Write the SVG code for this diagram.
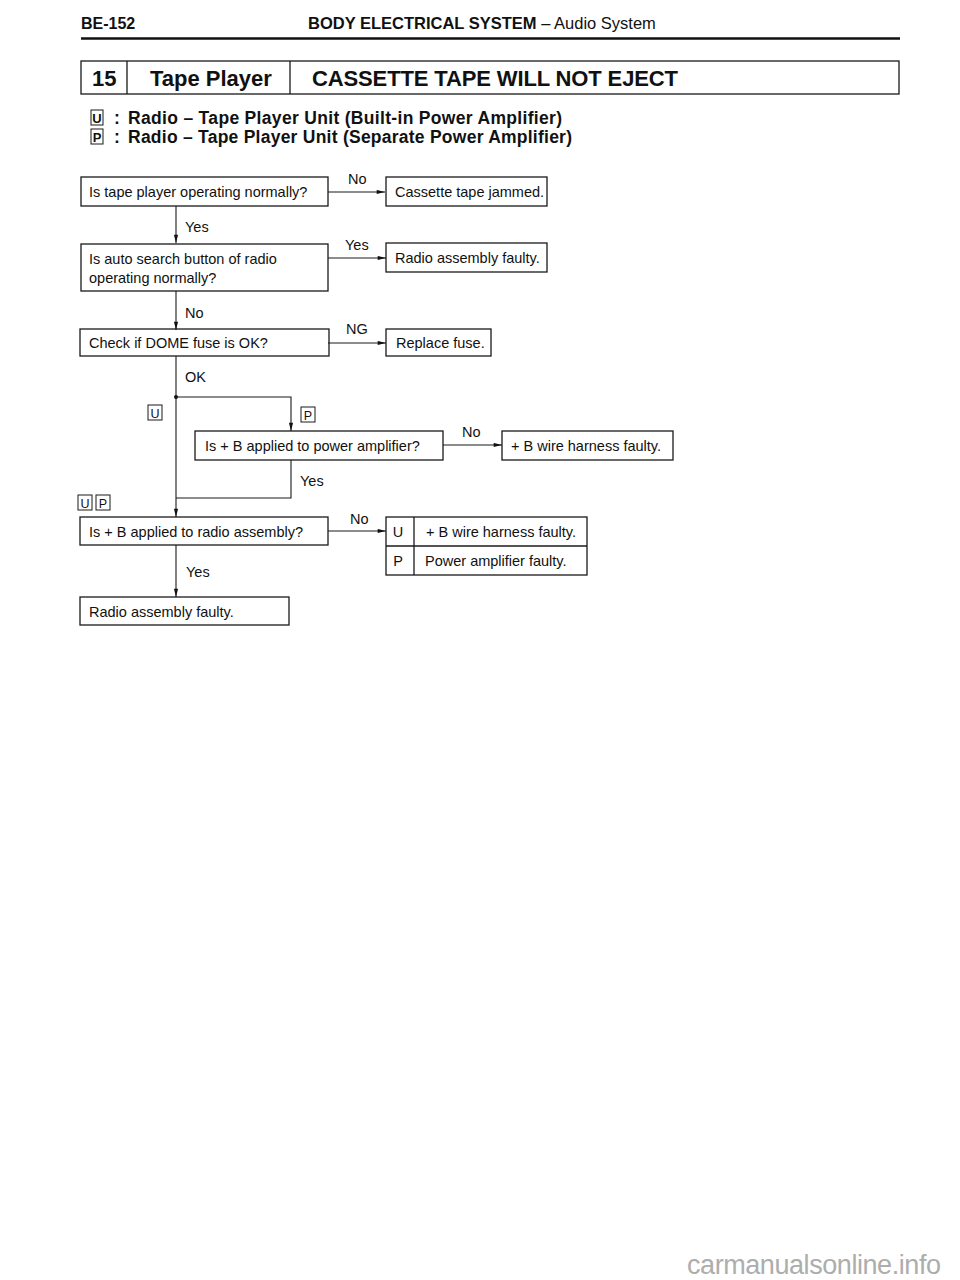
<svg xmlns="http://www.w3.org/2000/svg" width="960" height="1280" viewBox="0 0 960 1280">
<defs>
<marker id="arr" viewBox="0 0 10 6" refX="10" refY="3" markerWidth="9" markerHeight="5" markerUnits="userSpaceOnUse" orient="auto">
<path d="M0,0.5 L10,3 L0,5.5 z" fill="#111"/>
</marker>
</defs>
<style>
text{font-family:"Liberation Sans",Arial,sans-serif;fill:#111}
.t{font-size:14.5px}
.b{font-weight:bold}
.box{fill:none;stroke:#1a1a1a;stroke-width:1.3}
.ln{fill:none;stroke:#1a1a1a;stroke-width:1.1}
.ar{fill:none;stroke:#1a1a1a;stroke-width:1.1;marker-end:url(#arr)}
.tag{fill:none;stroke:#1a1a1a;stroke-width:1}
.tg{font-size:12.5px;text-anchor:middle}
.lg{font-size:13px;font-weight:bold;text-anchor:middle}
</style>
<rect width="960" height="1280" fill="#fff"/>
<g id="header">
<text x="81" y="29" class="b" font-size="16">BE-152</text>
<text x="308" y="29" font-size="16.5"><tspan class="b">BODY ELECTRICAL SYSTEM</tspan> – Audio System</text>
<line x1="81" y1="38.5" x2="900" y2="38.5" stroke="#111" stroke-width="2.5"/>
</g>
<g id="title">
<rect x="81" y="61" width="818" height="33" class="box" stroke-width="1.5"/>
<line x1="127" y1="61" x2="127" y2="94" class="box"/>
<line x1="290" y1="61" x2="290" y2="94" class="box"/>
<text x="92" y="85.5" class="b" font-size="22">15</text>
<text x="150" y="85.5" class="b" font-size="22">Tape Player</text>
<text x="312" y="85.5" class="b" font-size="22" textLength="366">CASSETTE TAPE WILL NOT EJECT</text>
</g>
<g id="legend">
<rect x="91" y="110" width="12" height="15" class="tag"/>
<text x="97" y="123" class="lg">U</text>
<text x="114" y="124" class="b" font-size="17.5">:</text>
<text x="128" y="124" class="b" font-size="17.5" textLength="434">Radio – Tape Player Unit (Built-in Power Amplifier)</text>
<rect x="91" y="129" width="12" height="15" class="tag"/>
<text x="97" y="142" class="lg">P</text>
<text x="114" y="143" class="b" font-size="17.5">:</text>
<text x="128" y="143" class="b" font-size="17.5" textLength="444">Radio – Tape Player Unit (Separate Power Amplifier)</text>
</g>
<g id="connectors">
<line x1="328" y1="192" x2="385" y2="192" class="ar"/>
<line x1="176" y1="206" x2="176" y2="243" class="ar"/>
<line x1="328" y1="258" x2="386" y2="258" class="ar"/>
<line x1="176" y1="291" x2="176" y2="330" class="ar"/>
<line x1="328" y1="343" x2="386" y2="343" class="ar"/>
<line x1="176" y1="356" x2="176" y2="517" class="ar"/>
<circle cx="176" cy="397" r="2" fill="#111"/>
<polyline points="176,397 291,397 291,431" class="ar"/>
<line x1="443" y1="445" x2="502" y2="445" class="ar"/>
<polyline points="291,460 291,498 176,498" class="ln"/>
<line x1="328" y1="531" x2="386" y2="531" class="ar"/>
<line x1="176" y1="545" x2="176" y2="597" class="ar"/>
<text x="348" y="184" class="t">No</text>
<text x="185" y="232" class="t">Yes</text>
<text x="345" y="250" class="t">Yes</text>
<text x="185" y="318" class="t">No</text>
<text x="346" y="334" class="t">NG</text>
<text x="185" y="382" class="t">OK</text>
<rect x="148" y="405" width="14" height="15" class="tag"/>
<text x="155" y="417.5" class="tg">U</text>
<rect x="301" y="407" width="14" height="15" class="tag"/>
<text x="308" y="419.5" class="tg">P</text>
<text x="462" y="437" class="t">No</text>
<text x="300" y="486" class="t">Yes</text>
<rect x="78" y="495" width="14" height="15" class="tag"/>
<text x="85" y="507.5" class="tg">U</text>
<rect x="96" y="495" width="14" height="15" class="tag"/>
<text x="103" y="507.5" class="tg">P</text>
<text x="350" y="524" class="t">No</text>
<text x="186" y="577" class="t">Yes</text>
</g>
<g id="q1">
<rect x="81" y="177" width="247" height="29" class="box"/>
<text x="89" y="197" class="t">Is tape player operating normally?</text>
</g>
<g id="r1">
<rect x="386" y="177" width="161" height="29" class="box"/>
<text x="395" y="197" class="t">Cassette tape jammed.</text>
</g>
<g id="q2">
<rect x="81" y="244" width="247" height="47" class="box"/>
<text x="89" y="264" class="t">Is auto search button of radio</text>
<text x="89" y="283" class="t">operating normally?</text>
</g>
<g id="r2">
<rect x="386" y="243" width="161" height="29" class="box"/>
<text x="395" y="263" class="t">Radio assembly faulty.</text>
</g>
<g id="q3">
<rect x="80" y="329" width="249" height="27" class="box"/>
<text x="89" y="348" class="t">Check if DOME fuse is OK?</text>
</g>
<g id="r3">
<rect x="386" y="329" width="105" height="27" class="box"/>
<text x="396" y="348" class="t">Replace fuse.</text>
</g>
<g id="q4">
<rect x="195" y="431" width="248" height="29" class="box"/>
<text x="205" y="451" class="t">Is + B applied to power amplifier?</text>
</g>
<g id="r4">
<rect x="502" y="431" width="171" height="29" class="box"/>
<text x="511" y="451" class="t">+ B wire harness faulty.</text>
</g>
<g id="q5">
<rect x="80" y="517" width="248" height="28" class="box"/>
<text x="89" y="537" class="t">Is + B applied to radio assembly?</text>
</g>
<g id="r5">
<rect x="386" y="517" width="201" height="58" class="box"/>
<line x1="386" y1="546" x2="587" y2="546" class="box"/>
<line x1="414" y1="517" x2="414" y2="575" class="box"/>
<text x="398" y="537" class="t" text-anchor="middle">U</text>
<text x="426" y="537" class="t">+ B wire harness faulty.</text>
<text x="398" y="566" class="t" text-anchor="middle">P</text>
<text x="425" y="566" class="t">Power amplifier faulty.</text>
</g>
<g id="r6">
<rect x="80" y="597" width="209" height="28" class="box"/>
<text x="89" y="617" class="t">Radio assembly faulty.</text>
</g>
<text x="687" y="1274" font-size="27" textLength="254" style="fill:#adadad">carmanualsonline.info</text>
</svg>
